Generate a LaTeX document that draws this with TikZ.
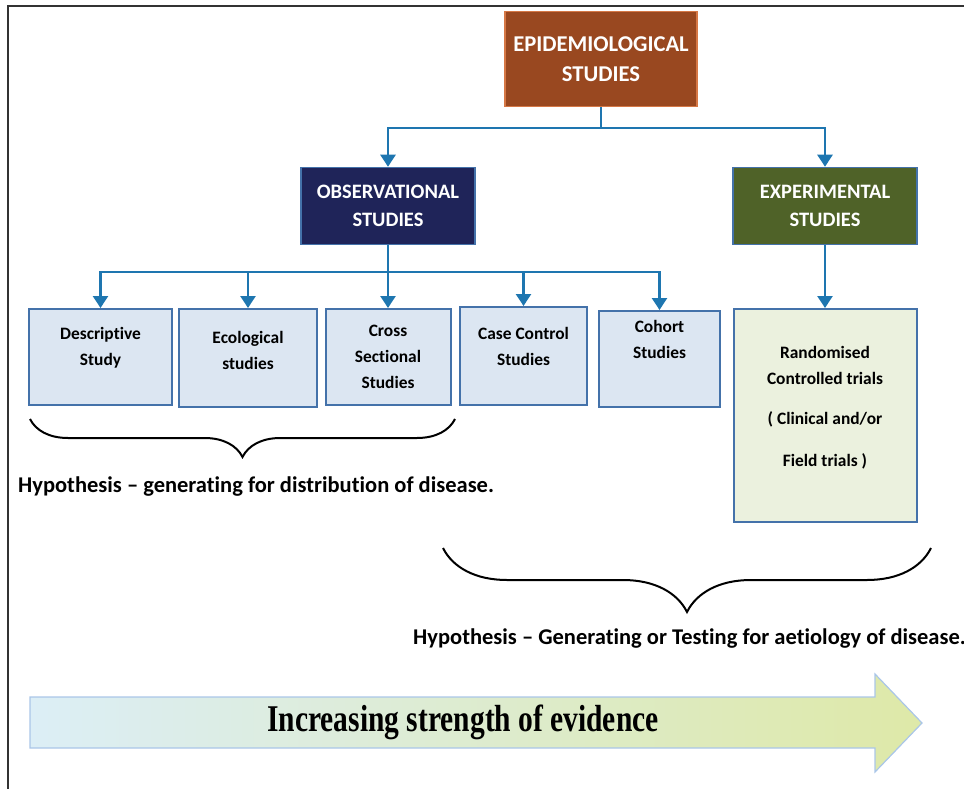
\documentclass[tikz,border=0pt]{standalone}
\usepackage{fontspec}
\setmainfont{Carlito}[Ligatures={TeX,NoCommon}]
\newfontfamily\evidencefont{Liberation Serif}
\usetikzlibrary{arrows.meta,decorations.pathreplacing}

\definecolor{epibrown}{RGB}{153,72,32}
\definecolor{epiedge}{RGB}{214,120,70}
\definecolor{obsnavy}{RGB}{31,36,89}
\definecolor{expgreen}{RGB}{79,98,40}
\definecolor{studyblue}{RGB}{220,230,242}
\definecolor{trialgreen}{RGB}{235,241,222}
\definecolor{boxedge}{RGB}{68,114,170}
\definecolor{linkblue}{RGB}{30,118,176}
\definecolor{arrowleft}{RGB}{220,238,246}
\definecolor{arrowmid}{RGB}{212,230,212}
\definecolor{arrowright}{RGB}{222,233,168}
\definecolor{arrowedge}{RGB}{170,198,232}

\tikzset{
  header/.style={draw=boxedge, line width=1.5pt, text=white, align=center, inner sep=0pt,
    font=\fontsize{20.5}{28}\selectfont\bfseries},
  study/.style={draw=boxedge, line width=2pt, fill=studyblue, align=center, inner sep=0pt,
    font=\fontsize{17.4}{26}\selectfont\bfseries},
  wire/.style={linkblue, line width=2.5pt},
  link/.style={wire, -{Triangle[width=15pt,length=12pt]}},
  bracket/.style={decorate, decoration={brace, mirror, amplitude=#1}, line width=2pt},
  hypo/.style={anchor=west, inner sep=0pt, font=\fontsize{22.5}{24}\selectfont\bfseries},
}

\begin{document}
\begin{tikzpicture}[x=1pt, y=-1pt]

    % Fix the page to the reference size
    \useasboundingbox (0,0) rectangle (964,789);

    % Draw the frame on the left and top
    \draw[line width=2pt, black!80] (8,789) -- (8,6) -- (964,6);

    % Define the top level boxes
    \node[header, fill=epibrown, draw=epiedge, minimum width=192, minimum height=95,
          font=\fontsize{22.6}{30}\selectfont\bfseries] (epi) at (601,59) {EPIDEMIOLOGICAL\\STUDIES};
    \node[header, fill=obsnavy, minimum width=174, minimum height=77] (obs) at (388,206) {OBSERVATIONAL\\STUDIES};
    \node[header, fill=expgreen, minimum width=184, minimum height=77] (exp) at (825,206) {EXPERIMENTAL\\STUDIES};

    % Define the study boxes
    \node[study, minimum width=143, minimum height=96, text depth=22pt] (desc) at (100.5,357) {Descriptive\\Study};
    \node[study, minimum width=138, minimum height=98, text depth=16pt] (eco) at (248,358) {Ecological\\studies};
    \node[study, minimum width=125, minimum height=96] (cross) at (388,357) {Cross\\Sectional\\Studies};
    \node[study, minimum width=127, minimum height=98, text depth=20pt] (case) at (523.5,356) {Case Control\\Studies};
    \node[study, minimum width=121, minimum height=96, text depth=40pt] (cohort) at (659.5,359) {Cohort\\Studies};
    \node[study, fill=trialgreen, minimum width=183, minimum height=213, text depth=18pt] (rct) at (825,415.5)
        {Randomised\\Controlled trials\\[14pt]( Clinical and/or\\[16pt]Field trials )};

    % Define the branch points
    \coordinate (split1) at (601,128);
    \coordinate (split2) at (388,272);

    % Draw the connectors
    \draw[wire] (epi.south) -- (split1);
    \draw[link] (split1) -| (obs.north);
    \draw[link] (split1) -| (exp.north);
    \draw[wire] (obs.south) -- (split2);
    \foreach \s in {desc,eco,cross,case,cohort}
        \draw[link] (split2) -| (\s.north);
    \draw[link] (exp.south) -- (rct.north);

    % Draw the braces
    \coordinate (brace1w) at (30,419);
    \coordinate (brace1e) at (455,419);
    \coordinate (brace2w) at (443,548);
    \coordinate (brace2e) at (931,548);
    \draw[bracket=38pt] (brace1w) -- (brace1e);
    \draw[bracket=64pt] (brace2w) -- (brace2e);

    % Add the hypothesis labels
    \node[hypo] (hypgen) at (18,487) {Hypothesis – generating for distribution of disease.};
    \node[hypo] (hyptest) at (413,639) {Hypothesis – Generating or Testing for aetiology of disease.};

    % Draw the evidence arrow
    \shadedraw[draw=arrowedge, line width=1.2pt, left color=arrowleft, middle color=arrowmid, right color=arrowright]
        (30,697) -- (875,697) -- (875,674) -- (922,723) -- (875,772) -- (875,748) -- (30,748) -- cycle;
    \node[font=\evidencefont\fontsize{29.5}{32}\selectfont\bfseries] (evidence) at (463,722)
        {\scalebox{1}[1.28]{Increasing strength of evidence}};

\end{tikzpicture}
\end{document}
